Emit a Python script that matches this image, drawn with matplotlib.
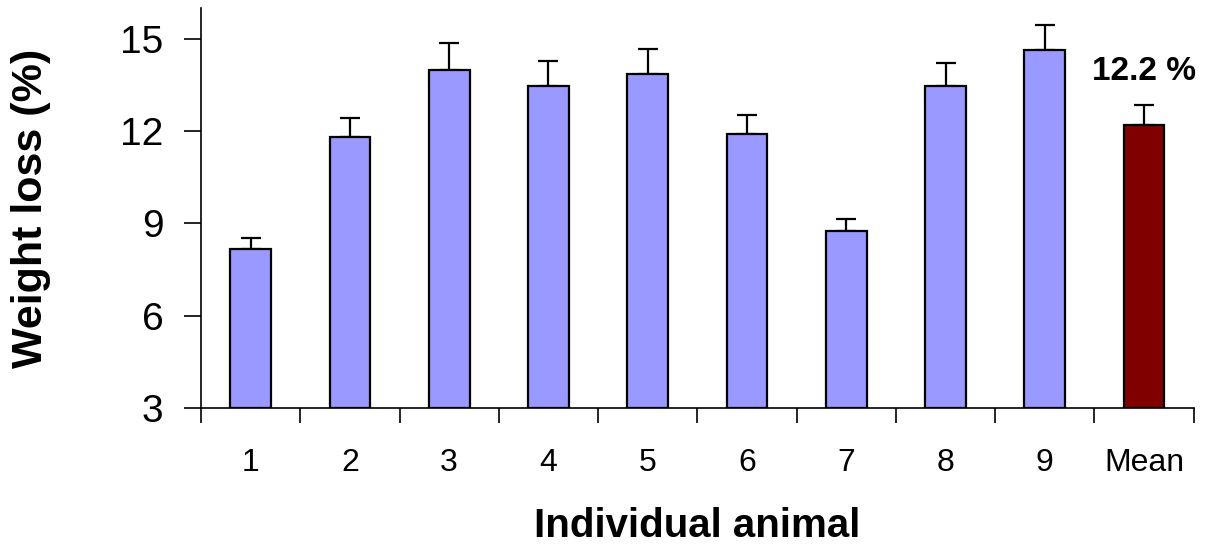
import matplotlib.pyplot as plt
import numpy as np

# weight loss per animal, last entry is the group mean
labels = ["1", "2", "3", "4", "5", "6", "7", "8", "9", "Mean"]
weight_loss = [8.16, 11.8, 14.0, 13.48, 13.87, 11.92, 8.77, 13.48, 14.64, 12.2]
sem = [0.36, 0.62, 0.88, 0.8, 0.8, 0.6, 0.38, 0.74, 0.8, 0.66]
colors = ["#9999ff"] * 9 + ["#800000"]

plt.rcParams["font.family"] = ["Liberation Sans", "DejaVu Sans"]

fig = plt.figure(figsize=(12.07, 5.44), dpi=100)
ax = fig.add_axes([0.1665, 0.25, 0.8225, 0.735])

x = np.arange(len(labels))
base = 3
ax.bar(x, np.array(weight_loss) - base, bottom=base, width=0.41,
       color=colors, edgecolor="black", linewidth=1.6, zorder=2)
ax.errorbar(x, weight_loss, yerr=[np.zeros(len(sem)), sem], fmt="none",
            ecolor="black", elinewidth=1.6, capsize=7, capthick=1.6, zorder=1)

# label the mean bar
ax.text(x[-1], 13.93, "%.1f %%" % weight_loss[-1],
        ha="center", va="center", fontsize=24, fontweight="bold")

ax.set_xlim(-0.5, len(labels) - 0.5)
ax.set_ylim(3, 16)
ax.set_yticks([3, 6, 9, 12, 15])
ax.set_xticks(np.arange(len(labels) + 1) - 0.5)
ax.set_xticklabels([])
ax.set_xticks(x, minor=True)
ax.set_xticklabels(labels, minor=True, fontsize=23)
ax.tick_params(axis="x", which="major", length=11, width=1.2, direction="out")
ax.tick_params(axis="x", which="minor", length=0, pad=29)
ax.tick_params(axis="y", length=12, width=1.2, direction="out", labelsize=28, pad=15)

ax.spines["top"].set_visible(False)
ax.spines["right"].set_visible(False)
ax.spines["left"].set_linewidth(1.2)
ax.spines["bottom"].set_linewidth(1.2)

ax.set_ylabel("Weight loss (%)", fontsize=31, fontweight="bold", labelpad=50)
ax.set_xlabel("Individual animal", fontsize=29, fontweight="bold", labelpad=21)

fig.savefig("out.png", dpi=100)
